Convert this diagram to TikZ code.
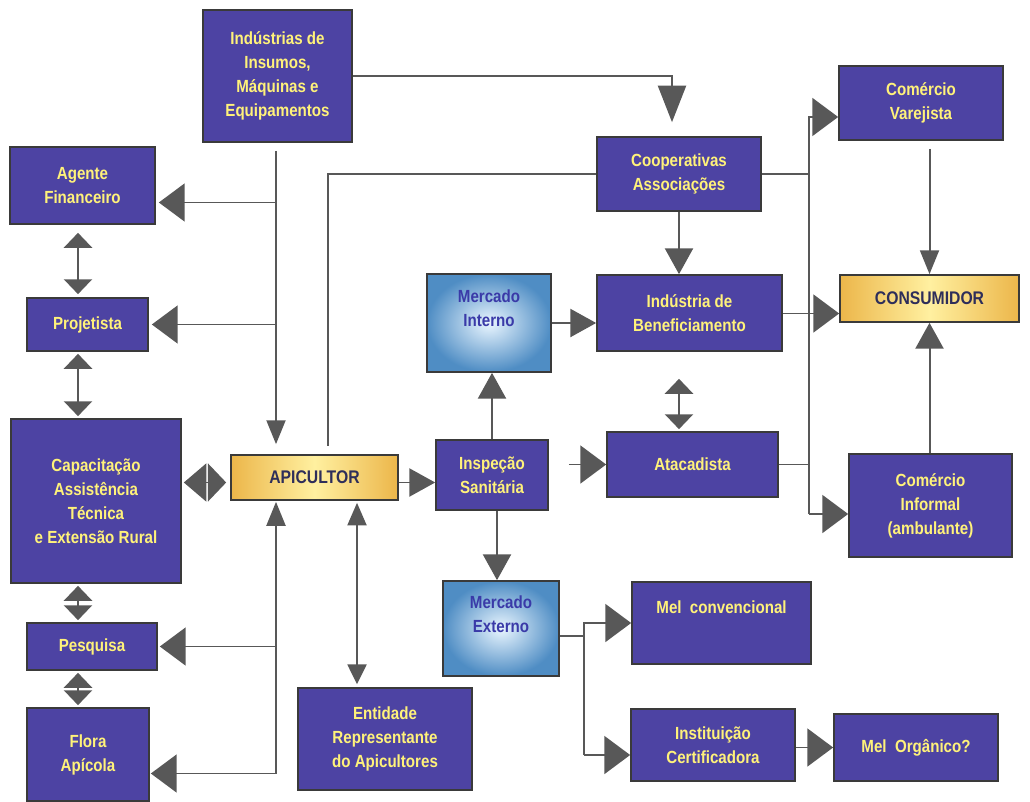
\documentclass[tikz,border=0pt]{standalone}
\usepackage{fontspec}
\setmainfont{Liberation Sans}[FakeStretch=0.86]
\usetikzlibrary{arrows.meta,calc}
\newlength\pxu \setlength\pxu{0.025cm}
\definecolor{boxfill}{HTML}{4D43A3}
\definecolor{boxtext}{HTML}{FFF27A}
\definecolor{boxline}{HTML}{3A3A3A}
\definecolor{lc}{HTML}{585858}
\definecolor{apiO}{HTML}{ECB64A}
\definecolor{apiL}{HTML}{FFF0A0}
\definecolor{apiT}{HTML}{2E2E5A}
\definecolor{mkD}{HTML}{4F8DC4}
\definecolor{mkL}{HTML}{EAF6FF}
\definecolor{mkT}{HTML}{3A3AA8}
\newcommand\bx[7][box]{%
  \pgfmathsetmacro\bxw{#5-#3}\pgfmathsetmacro\bxh{#6-#4}%
  \pgfmathsetmacro\bxcx{(#3+#5)/2}\pgfmathsetmacro\bxcy{(#4+#6)/2}%
  \node[#1, minimum width=\bxw\pxu, minimum height=\bxh\pxu] (#2) at (\bxcx,\bxcy) {#7};}
\begin{document}
\begin{tikzpicture}[x=0.025cm,y=-0.025cm,
  box/.style={draw=boxline, line width=1.2pt, fill=boxfill, text=boxtext, inner sep=0pt, align=center,
    font=\fontsize{12.5}{17}\selectfont\bfseries},
  gold/.style={box, left color=apiO, right color=apiO, middle color=apiL, text=apiT,
    font=\fontsize{13}{17}\selectfont\bfseries},
  mkt/.style={box, inner color=mkL, outer color=mkD, text=mkT},
  ln/.style={draw=lc, line width=1.4pt},
  aA/.style={-{Triangle[length=18.4pt,width=27pt]}},
  aB/.style={-{Triangle[length=18.4pt,width=20pt]}},
  aC/.style={-{Triangle[length=17pt,width=13.5pt]}},
  aE/.style={-{Triangle[length=26pt,width=20pt]}},
  dA/.style={{Triangle[length=16pt,width=27pt]}-{Triangle[length=13pt,width=27pt]}},
  dC/.style={{Triangle[length=16pt,width=13.5pt]}-{Triangle[length=14pt,width=13.5pt]}},
  dD/.style={{Triangle[length=10.6pt,width=20pt]}-{Triangle[length=10.6pt,width=20pt]}},
]
\useasboundingbox[fill=white] (0,0) rectangle (1030,801);

% boxes
\bx{ind}{203}{10}{352}{142}{Indústrias de\\Insumos,\\Máquinas e\\Equipamentos}
\bx{agf}{10}{147}{155}{224}{Agente\\Financeiro}
\bx{proj}{27}{298}{148}{351}{Projetista}
\bx{cap}{11}{419}{181}{583}{Capacitação\\Assistência\\Técnica\\e Extensão Rural}
\bx{pes}{27}{623}{157}{670}{Pesquisa}
\bx{flo}{27}{708}{149}{801}{Flora\\Apícola}
\bx[gold]{api}{231}{455}{398}{500}{APICULTOR}
\bx{ent}{298}{688}{472}{790}{Entidade\\Representante\\do Apicultores}
\bx{coop}{597}{137}{761}{211}{Cooperativas\\Associações}
\bx[mkt]{mi}{427}{274}{551}{372}{Mercado\\Interno\\[4pt]}
\bx{ib}{597}{275}{782}{351}{Indústria de\\Beneficiamento}
\bx{insp}{436}{440}{548}{510}{Inspeção\\Sanitária}
\bx{ata}{607}{432}{778}{497}{Atacadista}
\bx[mkt]{me}{443}{581}{559}{676}{Mercado\\Externo\\[4pt]}
\bx{mc}{632}{582}{811}{664}{Mel\ \ convencional\\[6pt]}
\bx{ic}{631}{709}{795}{781}{Instituição\\Certificadora}
\bx{mo}{834}{714}{998}{781}{Mel\ \ Orgânico?}
\bx{cv}{839}{66}{1003}{140}{Comércio\\Varejista}
\bx[gold]{con}{840}{275}{1019}{322}{CONSUMIDOR}
\bx{ci}{849}{454}{1012}{557}{Comércio\\Informal\\(ambulante)}

% helper coordinates
\coordinate (lx) at (276,0);
\coordinate (cx) at (78,0);
\coordinate (bus) at (809,0);
\coordinate (mb) at (584,0);
\coordinate (agfA) at ([yshift=-17\pxu]agf.east);
\coordinate (apiTop) at ([xshift=13.5\pxu]api.north);
\coordinate (apiW) at ([yshift=-5\pxu]api.west);
\coordinate (apiE) at ([yshift=-5\pxu]api.east);
\coordinate (apiB) at ([xshift=42.5\pxu]api.south);
\coordinate (floA) at ([yshift=-19\pxu]flo.east);
\coordinate (inspB) at ([xshift=5\pxu]insp.south);
\coordinate (cvA) at ([yshift=-14\pxu]cv.west);
\coordinate (ciA) at ([yshift=-8.5\pxu]ci.west);
\coordinate (conA) at ([yshift=-15\pxu]con.west);
\coordinate (meA) at ([yshift=-7.5\pxu]me.east);
\coordinate (icA) at ([yshift=-10\pxu]ic.west);
\coordinate (coopN) at ([xshift=-7\pxu]coop.north);

% connectors
\draw[ln,aE,shorten >=14\pxu] (ind.east) -| (coopN);
\draw[ln,aC,shorten <=8\pxu,shorten >=10\pxu] (lx |- ind.south) -- (lx |- api.north);
\draw[ln,aA,shorten >=3\pxu] (agfA -| lx) -- (agfA);
\draw[ln,aA,shorten >=3\pxu] (lx |- proj.east) -- (proj.east);
\draw[ln,shorten >=8\pxu] (coop.west) -| (apiTop);

\draw[ln,dD,shorten <=8\pxu,shorten >=3\pxu] (cx |- agf.south) -- (cx |- proj.north);
\draw[ln,dD,shorten <=2\pxu,shorten >=2\pxu] (cx |- proj.south) -- (cx |- cap.north);
\draw[ln,dD,shorten <=2\pxu,shorten >=2\pxu] (cx |- cap.south) -- (cx |- pes.north);
\draw[ln,dD,shorten <=2\pxu,shorten >=2\pxu] (cx |- pes.south) -- (cx |- flo.north);
\draw[ln,dA,shorten <=2\pxu,shorten >=4\pxu] (apiW -| cap.east) -- (apiW);

\draw[ln,aC,shorten >=1\pxu] (floA -| lx) -- (lx |- api.south);
\draw[ln,aA,shorten >=2\pxu] (lx |- pes.east) -- (pes.east);
\draw[ln,aA,shorten >=1\pxu] (floA -| lx) -- (floA);
\draw[ln,dC,shorten <=2\pxu,shorten >=3\pxu] (apiB) -- (apiB |- ent.north);

\draw[ln,aB] (apiE) -- (apiE -| insp.west);
\draw[ln,aB] (insp.north) -- (insp.north |- mi.south);
\draw[ln,aB] (inspB) -- (inspB |- me.north);
\draw[ln,aA,shorten <=20\pxu] (insp.east |- ata.west) -- (ata.west);
\draw[ln,aB] (mi.east) -- (mi.east -| ib.west);
\draw[ln,aB] (coop.south) -- (coop.south |- ib.north);
\draw[ln,dD,shorten <=27\pxu,shorten >=2\pxu] (coop.south |- ib.south) -- (coop.south |- ata.north);

\draw[ln] (coop.east) -- (coop.east -| bus);
\draw[ln] (ata.east) -- (ata.east -| bus);
\draw[ln,aA] (ciA -| bus) -- (cvA -| bus) -- (cvA);
\draw[ln,aA] (ciA -| bus) -- (ciA);
\draw[ln,aA] (ib.east |- conA) -- (conA);
\draw[ln,aC,shorten <=8\pxu] (cv.south -| con.north) -- (con.north);
\draw[ln,aB] (ci.north -| con.south) -- (con.south);

\draw[ln] (meA) -- (meA -| mb);
\draw[ln,aA] (icA -| mb) -- (mb |- mc.west) -- (mc.west);
\draw[ln,aA] (icA -| mb) -- (icA);
\draw[ln,aA] (ic.east |- mo.west) -- (mo.west);
\end{tikzpicture}
\end{document}
